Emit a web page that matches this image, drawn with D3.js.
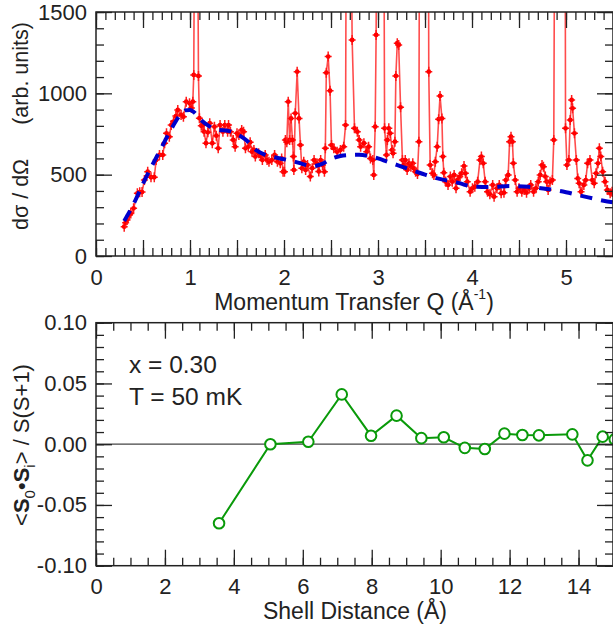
<!DOCTYPE html>
<html>
<head>
<meta charset="utf-8">
<script src="https://cdn.jsdelivr.net/npm/d3@7"></script>
<style>
  body { margin: 0; background: #fff; }
  svg { display: block; font-family: "Liberation Sans", Arial, sans-serif; }
  .tk text { font-size: 22px; fill: #222; }
  .tk line { stroke: #222; stroke-width: 1.3; }
</style>
</head>
<body>
<script>
// top panel: measured cross section (red) and fitted form factor (blue dashed)
var qVals = [0.30,0.315,0.33,0.355,0.37,0.40,0.44,0.465,0.49,0.515,0.55,0.585,0.62,0.64,0.675,0.71,0.73,0.75,0.78,0.80,0.825,0.85,0.87,0.905,0.93,0.96,0.995,1.015,1.03,1.04,1.055,1.075,1.09,1.10,1.12,1.137,1.15,1.17,1.19,1.21,1.237,1.26,1.28,1.30,1.32,1.35,1.37,1.40,1.41,1.43,1.46,1.48,1.50,1.52,1.55,1.57,1.59,1.62,1.64,1.66,1.68,1.695,1.73,1.75,1.77,1.80,1.82,1.84,1.87,1.90,1.93,1.96,1.975,1.99,2.005,2.015,2.03,2.045,2.06,2.075,2.09,2.10,2.105,2.12,2.14,2.16,2.175,2.19,2.21,2.23,2.25,2.28,2.30,2.32,2.35,2.37,2.39,2.41,2.43,2.44,2.45,2.47,2.49,2.505,2.53,2.565,2.60,2.635,2.655,2.67,2.70,2.725,2.75,2.78,2.80,2.815,2.85,2.88,2.90,2.92,2.945,2.955,2.97,2.98,3.00,3.03,3.055,3.07,3.09,3.10,3.115,3.13,3.15,3.16,3.18,3.19,3.205,3.22,3.24,3.26,3.275,3.29,3.31,3.33,3.35,3.37,3.38,3.40,3.42,3.435,3.45,3.48,3.51,3.535,3.54,3.555,3.58,3.595,3.61,3.63,3.645,3.66,3.68,3.69,3.70,3.72,3.745,3.77,3.79,3.81,3.83,3.845,3.87,3.89,3.915,3.93,3.95,3.98,4.005,4.03,4.06,4.085,4.10,4.12,4.14,4.165,4.19,4.22,4.235,4.265,4.29,4.31,4.34,4.36,4.385,4.40,4.415,4.43,4.44,4.46,4.48,4.50,4.53,4.555,4.58,4.61,4.625,4.655,4.68,4.705,4.725,4.745,4.76,4.78,4.795,4.81,4.83,4.855,4.87,4.885,4.91,4.94,4.965,4.99,4.995,5.01,5.03,5.045,5.06,5.07,5.09,5.11,5.125,5.14,5.16,5.19,5.21,5.23,5.255,5.28,5.30,5.32,5.34,5.355,5.37,5.39,5.415,5.44,5.47,5.49,5.51];
var sigmaVals = [180,205,221,252,262,293,385,392,393,467,518,484,484,590,621,621,693,754,733,805,826,860,898,867,856,949,939,910,949,1113,3000,2800,1107,847,800,805,764,693,760,816,693,795,740,662,805,764,805,764,805,764,713,672,754,744,775,764,662,672,700,641,652,611,631,615,590,621,590,580,590,621,580,570,600,518,518,713,700,949,713,846,713,611,529,877,1133,846,682,539,580,529,560,488,540,590,570,520,590,559,518,662,1127,1226,1016,682,662,641,652,672,805,3500,3000,1328,785,764,713,672,693,641,672,600,590,498,795,1359,4000,5000,3500,785,621,713,785,754,652,631,703,1107,1308,1297,914,590,559,590,529,570,549,570,539,518,504,703,4000,6000,5000,2500,1133,559,508,498,580,672,841,984,846,611,512,457,437,488,457,498,416,467,488,508,553,508,457,395,416,426,457,590,611,570,457,395,380,437,365,416,437,385,389,467,498,703,733,703,570,467,395,416,395,406,389,416,437,395,416,457,498,559,549,488,457,406,457,467,713,3000,5000,6000,4000,2500,785,559,590,836,959,908,754,590,477,447,395,437,467,570,590,467,447,508,570,662,611,518,457,406,385,395,375];
var fitQ = [0.30,0.40,0.50,0.60,0.70,0.80,0.90,0.95,1.00,1.05,1.10,1.20,1.30,1.40,1.50,1.60,1.70,1.80,1.90,2.00,2.10,2.20,2.30,2.40,2.50,2.60,2.70,2.80,2.90,3.00,3.10,3.20,3.30,3.40,3.50,3.60,3.70,3.80,3.90,4.00,4.20,4.40,4.60,4.80,5.00,5.20,5.40,5.50];
var fitVals = [215,320,445,560,670,780,870,895,898,880,846,800,775,770,748,712,652,622,607,595,582,565,552,565,597,615,621,622,615,600,580,560,540,520,500,482,468,458,442,426,424,430,425,412,392,365,340,330];

// bottom panel: spin correlation per shell
var shellR = [3.57,5.06,6.16,7.13,7.98,8.72,9.44,10.09,10.70,11.28,11.85,12.37,12.85,13.82,14.26,14.70,15.05];
var corrVals = [-0.065,0.000,0.002,0.041,0.007,0.0235,0.005,0.0057,-0.003,-0.004,0.0087,0.0076,0.0073,0.0081,-0.0133,0.0062,0.004];

var width = 613, height = 631;
var left = 96, right = 613;

var svg = d3.select("body").append("svg")
    .attr("width", width)
    .attr("height", height);

function frange(a, b, step) {
  // integer steps to avoid float drift
  var n = Math.round((b - a) / step);
  return d3.range(n + 1).map(function(i){ return +(a + i * step).toFixed(4); });
}

function drawAxes(x, y, y0, y1, xMaj, xMin, xFmt, yMaj, yMin, yFmt) {
  var ax = [
    [d3.axisBottom(x), "translate(0," + y1 + ")", xMaj, xMin, xFmt],
    [d3.axisTop(x), "translate(0," + y0 + ")", xMaj, xMin, null],
    [d3.axisLeft(y), "translate(" + left + ",0)", yMaj, yMin, yFmt],
    [d3.axisRight(y), "translate(" + right + ",0)", yMaj, yMin, null]
  ];
  ax.forEach(function(a, k){
    svg.append("g").attr("class", "tk").attr("transform", a[1])
        .call(a[0].tickValues(a[3]).tickSize(-8).tickFormat(""))
        .select(".domain").remove();
    var g = svg.append("g").attr("class", "tk").attr("transform", a[1])
        .call(a[0].tickValues(a[2]).tickSize(-16)
          .tickPadding(k === 0 ? 13 : 9)
          .tickFormat(a[4] || ""));
    g.select(".domain").remove();
  });
  svg.append("rect")
      .attr("x", left).attr("y", y0)
      .attr("width", right - left).attr("height", y1 - y0)
      .attr("fill", "none").attr("stroke", "#222").attr("stroke-width", 1.5);
}

// ---------- top panel ----------
var t0 = 12, t1 = 256;
var xQ = d3.scaleLinear().domain([0, 5.5]).range([left, right]);
var yS = d3.scaleLinear().domain([0, 1500]).range([t1, t0]);

svg.append("clipPath").attr("id", "clipTop").append("rect")
    .attr("x", left).attr("y", t0).attr("width", right - left).attr("height", t1 - t0);

var pts = qVals.map(function(q, i){ return {q: q, v: sigmaVals[i]}; });
var fit = fitQ.map(function(q, i){ return {q: q, v: fitVals[i]}; });

var topG = svg.append("g").attr("clip-path", "url(#clipTop)");

topG.append("path")
    .datum(pts)
    .attr("fill", "none")
    .attr("stroke", "rgba(255,0,0,0.7)")
    .attr("stroke-width", 1.6)
    .attr("d", d3.line().x(function(d){ return xQ(d.q); }).y(function(d){ return yS(d.v); }));

var mk = topG.selectAll("g.mk")
    .data(pts)
  .enter().append("g")
    .attr("class", "mk")
    .attr("transform", function(d){ return "translate(" + xQ(d.q) + "," + yS(d.v) + ")"; });
mk.append("path")
    .attr("d", "M0,-5V5M-3.5,0H3.5")
    .attr("stroke", "#ff1a1a")
    .attr("stroke-width", 1.5);
mk.append("circle")
    .attr("r", 2.4)
    .attr("fill", "#ff0000");

topG.append("path")
    .datum(fit)
    .attr("fill", "none")
    .attr("stroke", "#0000cc")
    .attr("stroke-width", 4)
    .attr("stroke-dasharray", "12,9")
    .attr("d", d3.line().curve(d3.curveMonotoneX)
      .x(function(d){ return xQ(d.q); }).y(function(d){ return yS(d.v); }));

drawAxes(xQ, yS, t0, t1,
  frange(0, 5.5, 0.5), frange(0, 5.5, 0.1),
  function(d){ return Number.isInteger(d) ? d : ""; },
  frange(0, 1500, 500), frange(0, 1500, 100),
  function(d){ return d; });

var xt = svg.append("text")
    .attr("x", 354).attr("y", 310)
    .attr("text-anchor", "middle")
    .attr("font-size", 23).attr("fill", "#222");
xt.append("tspan").text("Momentum Transfer Q (Å");
xt.append("tspan").attr("font-size", 14).attr("dy", -11).text("-1");
xt.append("tspan").attr("dy", 11).text(")");

var yt1 = svg.append("text")
    .attr("transform", "translate(28,230) rotate(-90)")
    .attr("font-size", 21.5).attr("fill", "#222");
yt1.append("tspan").text("dσ / dΩ");
yt1.append("tspan").attr("dx", 34).text("(arb. units)");

// ---------- bottom panel ----------
var b0 = 322.7, b1 = 565.7;
var xR = d3.scaleLinear().domain([0, 15]).range([left, right]);
var yC = d3.scaleLinear().domain([-0.1, 0.1]).range([b1, b0]);

svg.append("clipPath").attr("id", "clipBot").append("rect")
    .attr("x", left).attr("y", b0).attr("width", right - left).attr("height", b1 - b0);

var botG = svg.append("g").attr("clip-path", "url(#clipBot)");

botG.append("line")
    .attr("x1", left).attr("x2", right)
    .attr("y1", yC(0)).attr("y2", yC(0))
    .attr("stroke", "#444").attr("stroke-width", 1.3);

var corr = shellR.map(function(r, i){ return {r: r, v: corrVals[i]}; });

botG.append("path")
    .datum(corr)
    .attr("fill", "none")
    .attr("stroke", "#0a9a0a")
    .attr("stroke-width", 2)
    .attr("d", d3.line().x(function(d){ return xR(d.r); }).y(function(d){ return yC(d.v); }));

botG.selectAll("circle")
    .data(corr)
  .enter().append("circle")
    .attr("cx", function(d){ return xR(d.r); })
    .attr("cy", function(d){ return yC(d.v); })
    .attr("r", 5.3)
    .attr("fill", "#fff")
    .attr("stroke", "#0a9a0a")
    .attr("stroke-width", 2);

drawAxes(xR, yC, b0, b1,
  frange(0, 14, 2), frange(0, 15, 0.5),
  function(d){ return d; },
  frange(-0.1, 0.1, 0.05), frange(-0.1, 0.1, 0.01),
  function(d){ return d.toFixed(2); });

svg.append("text")
    .attr("x", 355).attr("y", 619)
    .attr("text-anchor", "middle")
    .attr("font-size", 23).attr("fill", "#222")
    .text("Shell Distance (Å)");

var yt = svg.append("text")
    .attr("transform", "translate(29,445) rotate(-90)")
    .attr("text-anchor", "middle")
    .attr("font-size", 22).attr("fill", "#222");
yt.append("tspan").text("<");
yt.append("tspan").attr("font-weight", "bold").text("S");
yt.append("tspan").attr("font-size", 15).attr("dy", 6).text("0");
yt.append("tspan").attr("dy", -6).text("•");
yt.append("tspan").attr("font-weight", "bold").text("S");
yt.append("tspan").attr("font-size", 15).attr("dy", 6).text("i");
yt.append("tspan").attr("dy", -6).text("> / S(S+1)");

svg.append("text")
    .attr("x", 129).attr("y", 373)
    .attr("font-size", 24.5).attr("fill", "#222")
    .text("x = 0.30");
svg.append("text")
    .attr("x", 129).attr("y", 405)
    .attr("font-size", 24.5).attr("fill", "#222")
    .text("T = 50 mK");
</script>
</body>
</html>
